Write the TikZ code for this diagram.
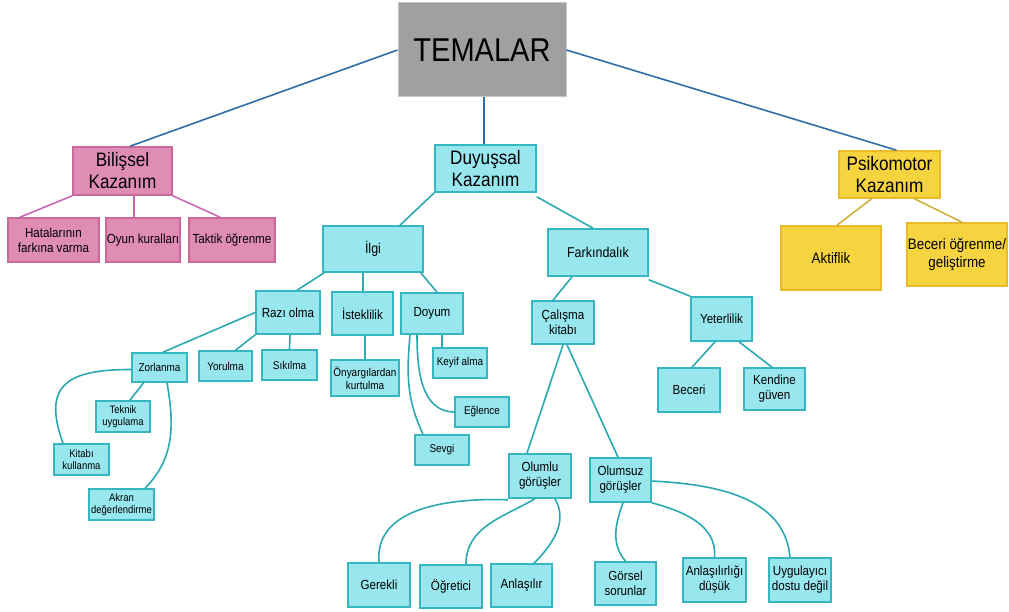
\documentclass[tikz,border=0pt]{standalone}
\usepackage{fontspec}
\setmainfont{Liberation Sans}[FakeStretch=0.88]
\usepackage{tikz}
\usetikzlibrary{positioning}
\definecolor{cfill}{HTML}{98E6EE}
\definecolor{cedge}{HTML}{35B6C0}
\definecolor{cline}{HTML}{2BA9B2}
\definecolor{pfill}{HTML}{E08DB6}
\definecolor{pedge}{HTML}{C7699B}
\definecolor{pline}{HTML}{C868B4}
\definecolor{yfill}{HTML}{F6D440}
\definecolor{yedge}{HTML}{E9B92C}
\definecolor{yline}{HTML}{CDB13C}
\definecolor{gfill}{HTML}{A0A0A0}
\definecolor{gedge}{HTML}{C6C6C6}
\definecolor{tline}{HTML}{2E6DA6}
\tikzset{
  tbox/.style={rectangle, draw=cedge, fill=cfill, line width=1.6pt, align=center,
               inner sep=1pt, font=\fontsize{13.2}{15}\selectfont},
  sbox/.style={tbox, font=\fontsize{11.3}{13}\selectfont},
  pbox/.style={tbox, draw=pedge, fill=pfill},
  ybox/.style={tbox, draw=yedge, fill=yfill, font=\fontsize{15.2}{18.5}\selectfont},
  head/.style={font=\fontsize{19.5}{22}\selectfont},
  sz/.style 2 args={minimum width=#1pt, minimum height=#2pt},
  link/.style={draw=cline, line width=1.6pt},
  plink/.style={draw=pline, line width=1.6pt},
  ylink/.style={draw=yline, line width=1.6pt},
  tlink/.style={draw=tline, line width=1.6pt}
}
\begin{document}
\begin{tikzpicture}[x=1pt,y=-1pt]
\useasboundingbox (0,0) rectangle (1009,612);
% top
\node[rectangle, draw=gedge, fill=gfill, line width=1pt, sz={168}{94},
      font=\fontsize{33}{36}\selectfont] (tem) at (482,50) {TEMALAR};
% second level
\node[pbox, head, sz={99}{48}] (bil) at (122.5,171) {Bilişsel\\Kazanım};
\node[tbox, head, sz={101}{47}] (duy) at (485.5,168.5) {Duyuşsal\\Kazanım};
\node[ybox, head, sz={101}{47}] (psi) at (889.5,174.5) {Psikomotor\\Kazanım};
% bilissel
\node[pbox, sz={91}{44}] (hat) at (53.5,240) {Hatalarının\\farkına varma};
\node[pbox, sz={74}{44}] (oyun) at (143,240) {Oyun kuralları};
\node[pbox, sz={86}{44}] (tak) at (232,240) {Taktik öğrenme};
% psikomotor
\node[ybox, sz={100}{64}] (akt) at (831,258) {Aktiflik};
\node[ybox, sz={99}{63}] (bec2) at (957,254.5) {Beceri öğrenme/\\geliştirme};
% duyussal
\node[tbox, font=\fontsize{14.2}{16}\selectfont, sz={100}{46}] (ilgi) at (373,249) {İlgi};
\node[tbox, font=\fontsize{14.2}{16}\selectfont, sz={100}{47}] (fark) at (598,252.5) {Farkındalık};
\node[tbox, sz={64}{43}] (raz) at (288,312.5) {Razı olma};
\node[tbox, sz={61}{43}] (ist) at (362.5,313.5) {İsteklilik};
\node[tbox, sz={62}{41}] (doy) at (432,313.5) {Doyum};
\node[sbox, sz={55}{29}] (zor) at (159.5,367.5) {Zorlanma};
\node[sbox, sz={53}{30}] (yor) at (225.5,366) {Yorulma};
\node[sbox, sz={55}{30}] (sik) at (289.5,365) {Sıkılma};
\node[sbox, font=\fontsize{10.8}{12.5}\selectfont, sz={54}{31}] (tek) at (123,416.5) {Teknik\\uygulama};
\node[sbox, font=\fontsize{10.8}{12.5}\selectfont, sz={55}{31}] (kit) at (81.5,459.5) {Kitabı\\kullanma};
\node[sbox, font=\fontsize{10.8}{12.5}\selectfont, sz={65}{31}] (akr) at (121.5,504.5) {Akran\\değerlendirme};
\node[sbox, sz={68}{36}] (ony) at (365,378) {Önyargılardan\\kurtulma};
\node[sbox, sz={54}{30}] (key) at (460,363) {Keyif alma};
\node[sbox, sz={54}{30}] (egl) at (482,412) {Eğlence};
\node[sbox, sz={54}{30}] (sev) at (442,450) {Sevgi};
% farkindalik
\node[tbox, sz={62}{43}] (cal) at (563,322.5) {Çalışma\\kitabı};
\node[tbox, sz={61}{44}] (yet) at (721.5,319) {Yeterlilik};
\node[tbox, sz={62}{44}] (bec) at (689,390) {Beceri};
\node[tbox, sz={61}{42}] (ken) at (774.5,389) {Kendine\\güven};
\node[tbox, sz={62}{44}] (olu) at (540,476) {Olumlu\\görüşler};
\node[tbox, sz={61}{44}] (ols) at (620.5,480) {Olumsuz\\görüşler};
\node[tbox, sz={62}{44}] (ger) at (379,585) {Gerekli};
\node[tbox, sz={62}{43}] (ogr) at (451,586.5) {Öğretici};
\node[tbox, sz={61}{43}] (anl) at (521.5,585.5) {Anlaşılır};
\node[tbox, sz={61}{43}] (gor) at (625.5,583.5) {Görsel\\sorunlar};
\node[tbox, sz={63}{44}] (anl2) at (714.5,580) {Anlaşılırlığı\\düşük};
\node[tbox, sz={62}{44}] (uyg) at (800,580) {Uygulayıcı\\dostu değil};
% connectors
\draw[tlink] (tem.west) -- ([xshift=7.5]bil.north);
\draw[tlink] ([xshift=2]tem.south) -- ([xshift=-1.5]duy.north);
\draw[tlink] (tem.east) -- ([xshift=7]psi.north);
\draw[plink] (bil.south west) -- ([xshift=-33.5]hat.north);
\draw[plink] ([xshift=-9]oyun.north) -- ([xshift=-9]oyun.north |- bil.south);
\draw[plink] (bil.south east) -- ([xshift=-12]tak.north);
\draw[ylink] ([xshift=-18]psi.south) -- ([xshift=6]akt.north);
\draw[ylink] ([xshift=25]psi.south) -- ([xshift=5]bec2.north);
\draw[link] (duy.south west) -- ([xshift=27]ilgi.north);
\draw[link] ([yshift=-4]duy.south east) -- ([xshift=-5]fark.north);
\draw[link] ([xshift=2]ilgi.south west) -- ([xshift=9]raz.north);
\draw[link] ([xshift=-10]ilgi.south) -- ([xshift=-10]ilgi.south |- ist.north);
\draw[link] ([xshift=-3]ilgi.south east) -- ([xshift=5]doy.north);
\draw[link] (raz.west) -- ([xshift=3.5]zor.north);
\draw[link] (raz.south west) -- ([xshift=10]yor.north);
\draw[link] ([xshift=2]raz.south) -- (sik.north);
\draw[link] ([xshift=-16]zor.south) -- ([xshift=7]tek.north);
\draw[link] ([yshift=-2]zor.west) to[out=180,in=110,looseness=1.6] ([xshift=-18.5]kit.north);
\draw[link] ([xshift=7.5]zor.south) to[out=-80,in=45] ([xshift=23.5]akr.north);
\draw[link] ([xshift=2.5]ist.south) -- (ony.north);
\draw[link] ([xshift=10]doy.south) -- ([xshift=10]doy.south |- key.north);
\draw[link] ([xshift=-15]doy.south) to[out=-90,in=180] (egl.west);
\draw[link] ([xshift=-22]doy.south) to[out=-95,in=115] ([xshift=-19]sev.north);
\draw[link] ([xshift=-26]fark.south) -- ([xshift=-10]cal.north);
\draw[link] ([yshift=-3]fark.south east) -- (yet.north west);
\draw[link] ([xshift=-6.5]yet.south) -- ([xshift=3]bec.north);
\draw[link] ([xshift=17.5]yet.south) -- ([xshift=-2.5]ken.north);
\draw[link] (cal.south) -- ([xshift=-13]olu.north);
\draw[link] ([xshift=4]cal.south) -- ([xshift=-2.5]ols.north);
\draw[link] ([yshift=-1]olu.south west) to[out=178,in=95] (ger.north);
\draw[link] ([xshift=-5]olu.south) to[out=-150,in=90] ([xshift=15]ogr.north);
\draw[link] ([xshift=15]olu.south) to[out=-60,in=45] ([xshift=12.5]anl.north);
\draw[link] ([xshift=2.5]ols.south) to[out=-110,in=130] (gor.north);
\draw[link] (ols.south east) to[out=-15,in=85] (anl2.north);
\draw[link] ([yshift=-1]ols.east) to[out=-3,in=95] ([xshift=-10]uyg.north);
\end{tikzpicture}
\end{document}
